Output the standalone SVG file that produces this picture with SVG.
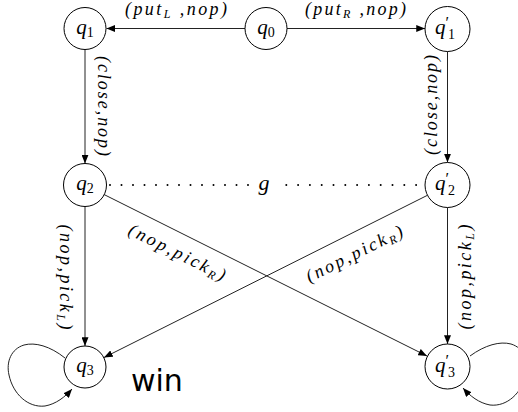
<svg xmlns="http://www.w3.org/2000/svg" width="518" height="412" viewBox="0 0 518 412">
<style>
.n{fill:#fff;stroke:#000;stroke-width:1}
.e{fill:none;stroke:#222;stroke-width:1}
.d{fill:none;stroke:#000;stroke-width:2;stroke-linecap:round}
.q{font-family:"Liberation Serif","Times New Roman",serif;font-size:21px;fill:#000}
.l{font-family:"Liberation Serif","Times New Roman",serif;font-style:italic;font-size:18px;fill:#000}
.g{font-size:22px}
.s{font-size:12px}
.it{font-style:italic}
.p{font-size:14px;font-style:normal}
.pr{font-size:16px;font-style:normal}
.w{font-family:"DejaVu Sans",sans-serif;font-size:30px;fill:#000}
</style>
<defs>
<marker id="ah" viewBox="0 0 10 8" refX="10" refY="4" markerWidth="9" markerHeight="7" orient="auto" markerUnits="userSpaceOnUse"><path d="M0,0 L10,4 L0,8 z" fill="#000"/></marker>
</defs>
<g id="connectors">
<path class="e" d="M245,28.5 L106.5,28.5" marker-end="url(#ah)"/>
<path class="e" d="M287,28.5 L425,28.5" marker-end="url(#ah)"/>
<path class="e" d="M85,49.5 L85,163.5" marker-end="url(#ah)"/>
<path class="e" d="M447.5,51.5 L447.5,162.5" marker-end="url(#ah)"/>
<path class="e" d="M85,206.5 L85,346" marker-end="url(#ah)"/>
<path class="e" d="M447.5,207.5 L447.5,344" marker-end="url(#ah)"/>
<path class="e" d="M104,194.5 L427,356" marker-end="url(#ah)"/>
<path class="e" d="M427,195.5 L104,357.5" marker-end="url(#ah)"/>
<path class="e" d="M65,358 C50,346 35,342 24,345 C11,349 6,362 9,375 C13,394 28,408 45,406 C56,404 65,397 72,389" marker-end="url(#ah)"/>
<path class="e" d="M470,356 C485,345 500,341 511,344 C524,348 529,361 526,374 C522,393 507,407 490,405 C479,403 470,396 463,388" marker-end="url(#ah)"/>
<path class="d" d="M110,185 L249,185" stroke-dasharray="0 11.5"/>
<path class="d" d="M286.3,185 L417,185" stroke-dasharray="0 11.8"/>
<text class="l g" x="264" y="190" text-anchor="middle">g</text>
<text class="l" x="176" y="15" text-anchor="middle" textLength="102" lengthAdjust="spacing">(put<tspan class="s" dy="3">L</tspan><tspan dy="-3"> ,nop)</tspan></text>
<text class="l" x="355.5" y="15" text-anchor="middle" textLength="101" lengthAdjust="spacing">(put<tspan class="s" dy="3">R</tspan><tspan dy="-3"> ,nop)</tspan></text>
<text class="l" transform="translate(98,106) rotate(90)" text-anchor="middle" textLength="100" lengthAdjust="spacing">(close,nop)</text>
<text class="l" transform="translate(436.5,105) rotate(-90)" text-anchor="middle" textLength="100" lengthAdjust="spacing">(close,nop)</text>
<text class="l" transform="translate(60,277) rotate(90)" text-anchor="middle" textLength="105" lengthAdjust="spacing">(nop,pick<tspan class="s" dy="3">L</tspan><tspan dy="-3">)</tspan></text>
<text class="l" transform="translate(471.3,277) rotate(-90)" text-anchor="middle" textLength="105" lengthAdjust="spacing">(nop,pick<tspan class="s" dy="3">L</tspan><tspan dy="-3">)</tspan></text>
<text class="l" transform="translate(185.9,235.2) rotate(26.565)" x="0" y="25" text-anchor="middle" textLength="106" lengthAdjust="spacing">(nop,pick<tspan class="s" dy="3">R</tspan><tspan dy="-3">)</tspan></text>
<text class="l" transform="translate(345.8,236.6) rotate(-26.565)" x="0" y="25" text-anchor="middle" textLength="106" lengthAdjust="spacing">(nop,pick<tspan class="s" dy="3">R</tspan><tspan dy="-3">)</tspan></text>
</g>
<g id="q0"><circle class="n" cx="266" cy="28.5" r="21"/><text class="q" x="266" y="33.5" text-anchor="middle"><tspan class="it">q</tspan><tspan class="p" dy="3">0</tspan></text></g>
<g id="q1"><circle class="n" cx="85" cy="28.5" r="21"/><text class="q" x="85" y="33.5" text-anchor="middle"><tspan class="it">q</tspan><tspan class="p" dy="3">1</tspan></text></g>
<g id="q1p"><circle class="n" cx="447.5" cy="29" r="22.5"/><text class="q" x="435" y="34"><tspan class="it">q</tspan><tspan class="pr" dy="-6">′</tspan><tspan class="p" dx="-1" dy="11">1</tspan></text></g>
<g id="q2"><circle class="n" cx="85" cy="185" r="21.5"/><text class="q" x="85" y="190" text-anchor="middle"><tspan class="it">q</tspan><tspan class="p" dy="3">2</tspan></text></g>
<g id="q2p"><circle class="n" cx="447.5" cy="185" r="22.5"/><text class="q" x="435" y="190"><tspan class="it">q</tspan><tspan class="pr" dy="-6">′</tspan><tspan class="p" dx="-1" dy="11">2</tspan></text></g>
<g id="q3"><circle class="n" cx="85" cy="367" r="21"/><text class="q" x="85" y="372" text-anchor="middle"><tspan class="it">q</tspan><tspan class="p" dy="3">3</tspan></text></g>
<g id="q3p"><circle class="n" cx="447.5" cy="366.5" r="22.5"/><text class="q" x="435" y="371.5"><tspan class="it">q</tspan><tspan class="pr" dy="-6">′</tspan><tspan class="p" dx="-1" dy="11">3</tspan></text></g>
<text class="w" x="131" y="391">win</text>
</svg>
